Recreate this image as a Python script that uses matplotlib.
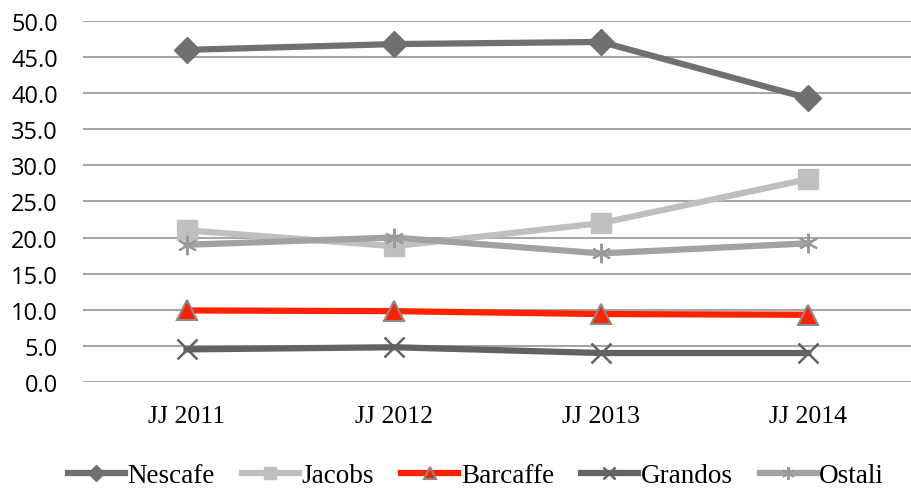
import matplotlib
matplotlib.use("Agg")
import matplotlib.pyplot as plt

years = ["JJ 2011", "JJ 2012", "JJ 2013", "JJ 2014"]
nescafe = [46.0, 46.8, 47.1, 39.3]
jacobs = [21.0, 18.8, 22.0, 28.1]
barcaffe = [9.9, 9.8, 9.4, 9.3]
grandos = [4.5, 4.8, 4.0, 4.0]
ostali = [19.0, 20.0, 17.8, 19.2]

fig = plt.figure(figsize=(9.12, 4.89), dpi=100)
ax = fig.add_axes([0.091, 0.217, 0.909, 0.738])

x = range(len(years))
lw = 4.5
ax.plot(x, nescafe, color="#707070", lw=lw, marker="D", ms=13,
        mfc="#707070", mec="#707070", label="Nescafe", zorder=3)
ax.plot(x, jacobs, color="#bfbfbf", lw=lw, marker="s", ms=14,
        mfc="#bfbfbf", mec="#bfbfbf", label="Jacobs", zorder=3)
ax.plot(x, barcaffe, color="#ff2200", lw=lw, marker="^", ms=14,
        mfc="#ff2200", mec="#8a8a8a", mew=1.5, label="Barcaffe", zorder=3)
ax.plot(x, grandos, color="#626262", lw=lw, marker="x", ms=14,
        mec="#626262", mew=1.8, label="Grandos", zorder=3)
ax.plot(x, ostali, color="#a2a2a2", lw=lw, marker=(6, 2, 0), ms=14,
        mec="#9a9a9a", mew=1.5, label="Ostali", zorder=3)

ax.set_xlim(-0.5, 3.5)
ax.set_ylim(0, 50)
ax.set_yticks([i * 5 for i in range(11)])
ax.set_yticklabels([f"{i * 5:.1f}" for i in range(11)],
                   fontfamily="Open Sans", fontsize=17)
ax.set_xticks(list(x))
ax.set_xticklabels(years, fontfamily="Liberation Serif", fontsize=18.5)
ax.tick_params(axis="y", length=0, pad=18)
ax.tick_params(axis="x", length=0, pad=17)
ax.grid(axis="y", color="#a6a6a6", lw=1.5)
ax.set_axisbelow(True)
for s in ax.spines.values():
    s.set_visible(False)

fig.legend(loc="lower center", bbox_to_anchor=(0.522, -0.05), ncol=5,
           frameon=False, prop={"family": "Liberation Serif", "size": 19.5},
           handlelength=2.1, handletextpad=0.1, columnspacing=1.0,
           markerscale=0.65)

fig.savefig("out.png", dpi=100)
